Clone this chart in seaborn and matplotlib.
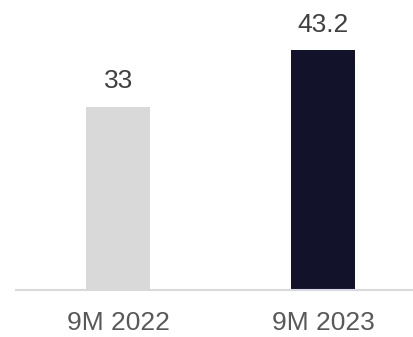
import matplotlib
matplotlib.use("Agg")
import matplotlib.pyplot as plt
import seaborn as sns
import pandas as pd

periods = ["9M 2022", "9M 2023"]
values = [33, 43.2]
labels = ["33", "43.2"]
colors = ["#d9d9d9", "#12132b"]

sns.set_style("white")
plt.rcParams["font.family"] = ["Liberation Sans", "DejaVu Sans"]

df = pd.DataFrame({"period": periods, "value": values})

fig = plt.figure(figsize=(4.13, 3.37), dpi=100)
ax = fig.add_axes([16 / 413, 47 / 337, 397 / 413, 290 / 337])

sns.barplot(data=df, x="period", y="value", hue="period", palette=colors,
            width=0.313, legend=False, ax=ax, linewidth=0, saturation=1)

for cont, lab in zip(ax.containers, labels):
    ax.bar_label(cont, labels=[lab], padding=10, fontsize=19, color="#404040")

ax.set_xlim(-0.5, 1.44)
ax.set_ylim(0, 52.3)
ax.set_xlabel("")
ax.set_ylabel("")
ax.set_yticks([])
ax.tick_params(axis="x", length=0, pad=15, labelsize=19, labelcolor="#595959")
for side in ["top", "right", "left"]:
    ax.spines[side].set_visible(False)
ax.spines["bottom"].set_color("#d9d9d9")
ax.spines["bottom"].set_linewidth(1.5)

fig.savefig("out.png", dpi=100)
